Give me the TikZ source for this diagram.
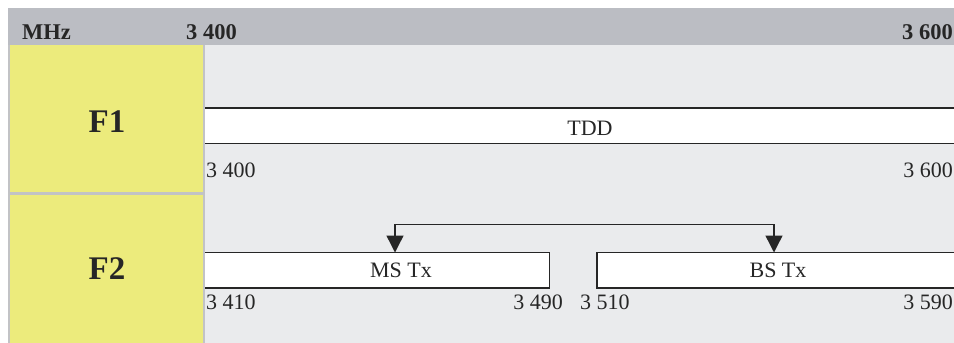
\documentclass[tikz,border=0pt]{standalone}
\usepackage{fontspec}
\setmainfont{Liberation Serif}
\usetikzlibrary{arrows.meta}
\definecolor{hdr}{HTML}{BBBDC3}
\definecolor{yel}{HTML}{ECEB7C}
\definecolor{bgc}{HTML}{EAEBED}
\definecolor{sep}{HTML}{C2C3C6}
\definecolor{ink}{HTML}{262626}
\begin{document}
\begin{tikzpicture}[x=1pt,y=-1pt,
  txt/.style={font=\fontsize{22}{26}\selectfont, text=ink, inner sep=0pt},
  hd/.style={font=\fontsize{22.5}{26}\selectfont\bfseries, text=ink, inner sep=0pt},
  big/.style={font=\fontsize{33}{38}\selectfont\bfseries, text=ink, inner sep=0pt},
  bar/.style={fill=white, inner sep=0pt, minimum height=35pt, anchor=north west},
  edge/.style={draw=ink, line width=1.4pt},
  link/.style={draw=ink, line width=1.4pt, -{Triangle[width=17pt,length=17pt]}}]
\useasboundingbox (0,0) rectangle (954,343);
\fill[white] (0,0) rectangle (954,343);
% header band
\fill[hdr] (8,8) rectangle (954,45);
% left column
\fill[sep] (8,45) rectangle (205,343);
\fill[yel] (10,45) rectangle (203,192);
\fill[yel] (10,195) rectangle (203,343);
% content area
\fill[bgc] (205,45) rectangle (954,343);
% header texts
\node[hd, anchor=west] (mhz) at (22,32) {MHz};
\node[hd, anchor=west] (h1) at (186,32) {3 400};
\node[hd, anchor=east] (h2) at (953,32) {3 600};
% row labels
\node[big] (f1) at (107,122) {F1};
\node[big] (f2) at (107,269) {F2};
% TDD bar
\node[bar, minimum width=760pt] (tdd) at (205,108) {};
\draw[edge] (tdd.north west) -- (tdd.north east);
\draw[edge] (tdd.south west) -- (tdd.south east);
\node[txt] (tddl) at (590,128) {TDD};
\node[txt, anchor=west] (l1) at (206,170) {3 400};
\node[txt, anchor=east] (l2) at (953,170) {3 600};
% MS Tx box
\node[bar, minimum width=344pt] (ms) at (205,252.5) {};
\draw[edge] (ms.north west) -- (ms.north east) -- (ms.south east) -- (ms.south west);
\node[txt] (msl) at (401,270) {MS Tx};
% BS Tx box
\node[bar, minimum width=370pt] (bs) at (597,252.5) {};
\draw[edge] (bs.north east) -- (bs.north west) -- (bs.south west) -- (bs.south east);
\node[txt] (bsl) at (778,270) {BS Tx};
% frequency labels
\node[txt, anchor=west] (l3) at (206,302) {3 410};
\node[txt, anchor=east] (l4) at (563,302) {3 490};
\node[txt, anchor=west] (l5) at (580,302) {3 510};
\node[txt, anchor=east] (l6) at (953,302) {3 590};
% duplex arrow
\coordinate (msin) at ([xshift=190pt]ms.north west);
\coordinate (bsin) at ([xshift=177pt]bs.north west);
\coordinate (ctop) at (584.5,224.5);
\draw[link] (ctop) -| (msin);
\draw[link] (ctop) -| (bsin);
\end{tikzpicture}
\end{document}
